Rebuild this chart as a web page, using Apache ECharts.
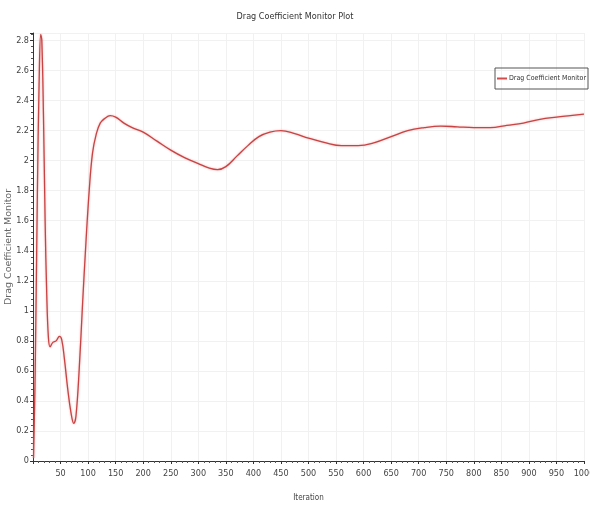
<!DOCTYPE html>
<html>
<head>
<meta charset="utf-8">
<script src="https://cdn.jsdelivr.net/npm/echarts@6/dist/echarts.min.js"></script>
<style>
  html, body { margin: 0; padding: 0; background: #fff; }
  #chart { width: 590px; height: 506px; }
</style>
</head>
<body>
<div id="chart"></div>
<script>
// Drag coefficient monitor history over solver iterations
const iterations = [1, 4, 8, 11, 14, 16, 19, 22, 25, 28, 31, 36, 42, 48, 52, 57, 63, 69, 74, 78,
  84, 90, 96, 102, 108, 115, 122, 130, 140, 150, 165, 180, 200, 225, 250, 275, 300, 320, 335, 350,
  370, 390, 410, 430, 450, 475, 500, 530, 560, 590, 620, 650, 680, 710, 740, 770, 800, 830, 860,
  890, 920, 950, 975, 1000];
const dragCoefficient = [0.02, 0.6, 1.8, 2.5, 2.84, 2.8, 2.3, 1.6, 1.1, 0.82, 0.76, 0.79, 0.8, 0.83, 0.81, 0.68, 0.48, 0.32, 0.25, 0.3,
  0.62, 1.05, 1.45, 1.8, 2.05, 2.18, 2.25, 2.28, 2.3, 2.29, 2.25, 2.22, 2.19, 2.13, 2.07, 2.02, 1.98, 1.95, 1.94, 1.96,
  2.03, 2.1, 2.16, 2.19, 2.2, 2.18, 2.15, 2.12, 2.1, 2.1, 2.12, 2.16, 2.2, 2.22, 2.23, 2.225, 2.22, 2.22, 2.235,
  2.25, 2.275, 2.29, 2.3, 2.31];

const seriesName = 'Drag Coefficient Monitor';
const narrow = 'Liberation Sans Narrow, DejaVu Sans Condensed, sans-serif';

const chart = echarts.init(document.getElementById('chart'));
chart.setOption({
  animation: false,
  backgroundColor: '#fff',
  title: {
    text: 'Drag Coefficient Monitor Plot',
    left: 'center',
    top: 7,
    textStyle: { fontSize: 9, fontWeight: 'normal', color: '#333', fontFamily: narrow }
  },
  legend: {
    right: 2,
    top: 68,
    orient: 'vertical',
    borderColor: '#555',
    borderWidth: 1,
    borderRadius: 0,
    padding: [7, 2, 7, 2],
    itemWidth: 10,
    itemHeight: 2,
    itemGap: 0,
    icon: 'rect',
    textStyle: { fontSize: 7, color: '#333', fontFamily: narrow, padding: [0, 0, 0, -3] },
    data: [seriesName]
  },
  grid: { left: 33, right: 6, top: 33, bottom: 45, outerBoundsMode: 'none', containLabel: false },
  xAxis: {
    type: 'value',
    min: 0,
    max: 1000,
    interval: 50,
    name: 'Iteration',
    nameLocation: 'middle',
    nameGap: 33,
    nameTextStyle: { fontSize: 8, color: '#444', fontFamily: narrow },
    axisLine: { lineStyle: { color: '#333', width: 1 } },
    axisTick: { show: true, length: 3, lineStyle: { color: '#333' } },
    minorTick: { show: true, splitNumber: 5, length: 2, lineStyle: { color: '#555' } },
    axisLabel: {
      showMinLabel: false,
      fontSize: 9,
      color: '#444',
      fontFamily: narrow,
      margin: 8,
      formatter: v => String(v)
    },
    splitLine: { show: true, lineStyle: { color: '#f1f1f1', width: 1 } }
  },
  yAxis: {
    type: 'value',
    min: 0,
    max: 2.85,
    interval: 0.2,
    name: seriesName,
    nameLocation: 'middle',
    nameGap: 19,
    nameMoveOverlap: false,
    nameTextStyle: { fontSize: 9.5, color: '#666', fontFamily: 'DejaVu Sans, sans-serif' },
    axisLine: { show: true, lineStyle: { color: '#333', width: 1 } },
    axisTick: { show: true, length: 3, lineStyle: { color: '#333' } },
    minorTick: { show: true, splitNumber: 5, length: 2, lineStyle: { color: '#555' } },
    axisLabel: {
      showMaxLabel: false,
      fontSize: 9,
      color: '#444',
      fontFamily: narrow,
      margin: 4,
      formatter: v => String(+v.toFixed(1))
    },
    splitLine: { show: true, lineStyle: { color: '#f1f1f1', width: 1 } }
  },
  series: [{
    name: seriesName,
    type: 'line',
    smooth: 0.4,
    showSymbol: false,
    data: iterations.map((it, i) => [it, dragCoefficient[i]]),
    lineStyle: { color: '#c84444', width: 1.3, shadowColor: 'rgba(235,130,130,0.7)', shadowBlur: 2 },
    itemStyle: { color: '#d24c4c' }
  }]
});
</script>
</body>
</html>
